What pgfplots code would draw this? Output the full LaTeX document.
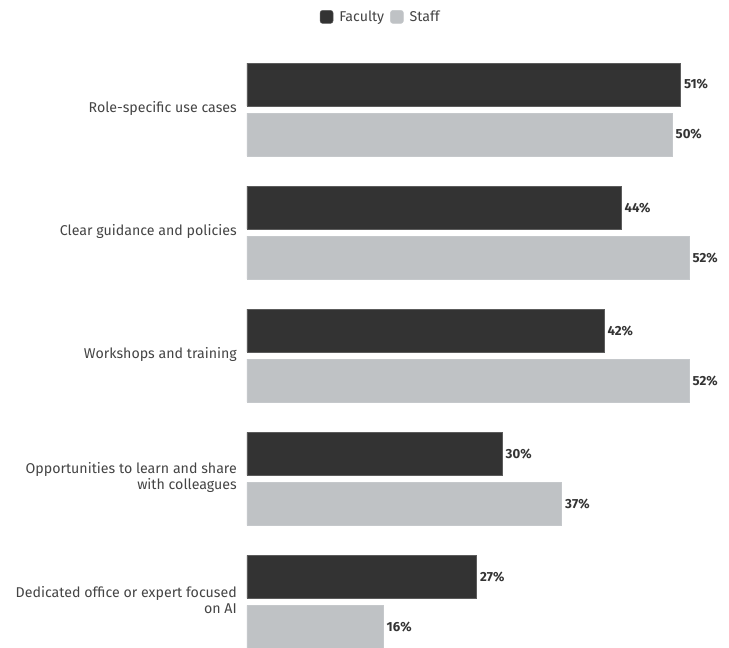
\documentclass[border=0pt]{standalone}
\usepackage{fontspec}
\setmainfont{Fira Sans}
\usepackage{pgfplots}
\pgfplotsset{compat=1.18}
\definecolor{fac}{HTML}{333333}
\definecolor{stf}{HTML}{BFC2C5}
\definecolor{txt}{HTML}{444444}
\begin{document}
\begin{tikzpicture}
\begin{axis}[
  name=ax,
  scale only axis, width=476pt, height=608pt,
  xbar, xmin=0, xmax=56, ymin=-0.3737, ymax=4.5646,
  bar width=43pt,
  axis line style={draw=none},
  major tick length=0pt,
  xtick=\empty,
  ytick={0,1,2,3,4},
  yticklabels={{Dedicated office or expert focused\\on AI},{Opportunities to learn and share\\with colleagues},{Workshops and training},{Clear guidance and policies},{Role-specific use cases}},
  yticklabel style={align=right, font=\fontsize{14.2}{16}\selectfont, text=txt, inner sep=0pt, xshift=-10pt, yshift=1.5pt},
  /pgf/number format/assume math mode=true,
  nodes near coords={\pgfmathprintnumber{\pgfplotspointmeta}\%},
  nodes near coords style={anchor=west, font=\fontsize{13.2}{15}\selectfont\bfseries, text=fac, inner sep=0pt, xshift=3.5pt},
  legend style={at={(rel axis cs:0.281,1.038)}, anchor=center, draw=none, legend columns=2, font=\fontsize{14.2}{16}\selectfont, text=txt, column sep=4pt, inner sep=0pt},
  legend image code/.code={\fill[#1, rounded corners=2.5pt] (0pt,-6.5pt) rectangle (13pt,6.5pt);},
]
\addplot[fill=fac, draw=fac!80!white, bar shift=25pt] coordinates {(27,0) (30,1) (42,2) (44,3) (51,4)};
\addplot[fill=stf, draw=stf!90!white, bar shift=-25pt] coordinates {(16,0) (37,1) (52,2) (52,3) (50,4)};
\legend{Faculty, Staff}
\end{axis}
\pgfresetboundingbox
\path[use as bounding box] ([xshift=-247pt]ax.south west) rectangle ([xshift=482pt,yshift=648pt]ax.south west);
\end{tikzpicture}
\end{document}
